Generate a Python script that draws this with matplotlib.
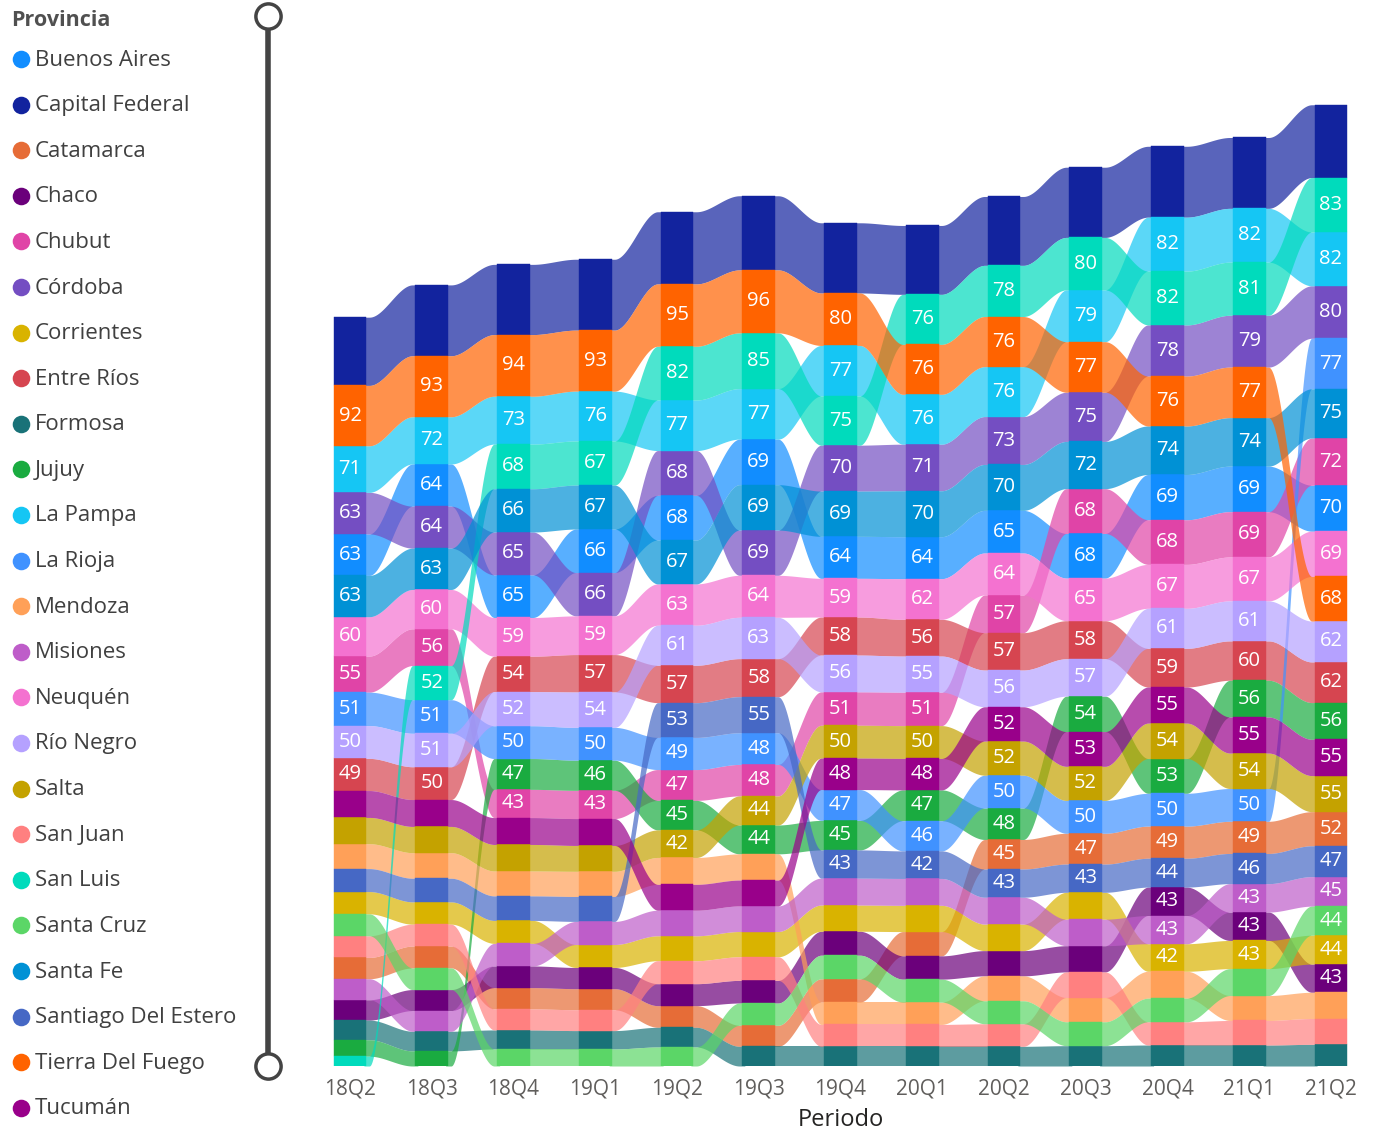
import numpy as np
import matplotlib
matplotlib.use("Agg")
import matplotlib.pyplot as plt

# ---------------- data ----------------
periods = ["18Q2", "18Q3", "18Q4", "19Q1", "19Q2", "19Q3", "19Q4",
           "20Q1", "20Q2", "20Q3", "20Q4", "21Q1", "21Q2"]

provinces = ["Buenos Aires", "Capital Federal", "Catamarca", "Chaco", "Chubut",
             "Córdoba", "Corrientes", "Entre Ríos", "Formosa", "Jujuy", "La Pampa",
             "La Rioja", "Mendoza", "Misiones", "Neuquén", "Río Negro", "Salta",
             "San Juan", "San Luis", "Santa Cruz", "Santa Fe", "Santiago Del Estero",
             "Tierra Del Fuego", "Tucumán"]

buenos_aires     = [63.2, 64.3, 65, 66.3, 68, 69.4, 64, 64, 65, 68, 69, 69.4, 70]
capital_federal  = [104, 108, 107, 108, 110, 113, 107, 105, 105, 107, 108, 108, 111]
catamarca        = [32.5, 33.3, 32.5, 32.1, 33, 32, 35.5, 37, 45, 47, 49, 49, 52]
chaco            = [31, 32, 33, 32.3, 33.5, 34.5, 36.5, 35.5, 38.5, 40, 43.3, 43.2, 43]
chubut           = [55, 56, 43, 43, 47, 48, 51, 51, 57.4, 68.3, 68, 69, 72]
cordoba          = [63.4, 64, 65.3, 66, 68.3, 69, 70, 71, 73, 75, 78, 79, 80]
corrientes       = [34, 34, 35, 35, 38, 38.5, 40, 40, 40.4, 41, 42, 43, 44]
entre_rios       = [49, 50, 54, 57, 57, 58, 58, 56, 57, 58, 59, 60, 62]
formosa          = [30, 30, 29, 28, 30, 30, 30, 30, 30, 31, 32, 32, 33]
jujuy            = [25, 23, 47, 46, 45, 44, 45, 47, 48, 54, 53, 56, 56]
la_pampa         = [71, 72, 73, 76, 77, 77, 77, 76, 76.1, 79, 82.3, 82, 82]
la_rioja         = [51, 51.2, 50, 50, 49, 48.3, 47, 46, 50, 50, 50, 50, 77]
mendoza          = [38, 39, 38, 38.4, 41, 40, 34, 34, 38, 37, 41, 38, 40]
misiones         = [32, 31.5, 34.4, 35.2, 39, 39, 41, 41, 41, 40.4, 43, 43.4, 45]
neuquen          = [60, 60, 59, 59, 63, 64, 59, 62, 64, 65, 67, 67, 69]
rio_negro        = [50, 51, 52, 54, 61, 63, 56, 55, 56, 57, 61, 61, 62.3]
salta            = [40, 40, 40.4, 39.4, 42, 44.3, 50, 50, 52, 52, 54, 54, 55]
san_juan         = [33, 33.4, 32, 31.8, 35, 36, 33.4, 33.4, 34.4, 39, 35.4, 37.4, 39.4]
san_luis         = [15, 52, 68, 67.3, 82, 85, 75, 76.3, 78, 80, 82, 81, 83]
santa_cruz       = [33.4, 33, 26, 26, 29, 34, 36, 35, 35, 36.4, 36, 41, 44.3]
santa_fe         = [63, 63, 66, 67, 67, 69.2, 69, 70, 70, 72, 74, 74, 75]
santiago         = [35, 36, 37.4, 38, 53, 55, 43, 42, 43, 43, 44, 46, 47]
tierra_del_fuego = [92, 93, 94, 93, 95, 96, 80, 76.1, 76.4, 77, 76, 77, 68]
tucuman          = [41, 41, 41, 41, 39.4, 39.4, 48, 48, 52.3, 53, 55, 55, 55.3]

colors = ["#118DFF", "#12239E", "#E66C37", "#6B007B", "#E044A7", "#744EC2",
          "#D9B300", "#D64550", "#197278", "#1AAB40", "#15C6F4", "#4092FF",
          "#FFA058", "#BE5DC9", "#F472D0", "#B5A1FF", "#C4A200", "#FF8080",
          "#00DBBC", "#5BD667", "#0091D5", "#4668C5", "#FF6300", "#99008A"]

values = np.array([buenos_aires, capital_federal, catamarca, chaco, chubut, cordoba,
                   corrientes, entre_rios, formosa, jujuy, la_pampa, la_rioja,
                   mendoza, misiones, neuquen, rio_negro, salta, san_juan, san_luis,
                   santa_cruz, santa_fe, santiago, tierra_del_fuego, tucuman], dtype=float)

# ---------------- figure ----------------
plt.rcParams['font.family'] = ['Open Sans', 'DejaVu Sans']
W, H = 1374, 1134
fig = plt.figure(figsize=(W / 100, H / 100), dpi=100)

# legend / decoration layer (pixel coordinates)
lax = fig.add_axes([0, 0, 1, 1])
lax.set_xlim(0, W)
lax.set_ylim(H, 0)
lax.axis('off')

lax.text(11, 21, "Provincia", fontsize=15.5, fontweight='bold', color='#505050',
         va='center', ha='left')
for k, (name, c) in enumerate(zip(provinces, colors)):
    yy = 59 + k * 45.6
    lax.scatter([21], [yy], s=160, color=c, lw=0)
    lax.text(35, yy + 1, name, fontsize=16, color='#404040', va='center', ha='left')

# scroll-like slider
lax.plot([268, 268], [16, 1066], color='#444444', lw=4, solid_capstyle='butt', zorder=1)
lax.scatter([268, 268], [16, 1066], s=330, facecolor='white', edgecolor='#444444',
            linewidth=2.5, zorder=2)

# main ribbon chart
scale = 0.656  # px per unit
px_left, px_right, px_bottom, px_top = 329.6, 1351.4, 1066, 90
ax = fig.add_axes([px_left / W, 1 - px_bottom / H, (px_right - px_left) / W,
                   (px_bottom - px_top) / H])
ax.set_xlim(-0.25, len(periods) - 1 + 0.25)
ax.set_ylim(0, (px_bottom - px_top) / scale)

n_prov, n_per = values.shape
bottoms = np.zeros_like(values)
for t in range(n_per):
    order = np.argsort(-values[:, t], kind='stable')
    cum = 0.0
    for i in order[::-1]:
        bottoms[i, t] = cum
        cum += values[i, t]
tops = bottoms + values

bw = 0.40
ov = 0.03  # ribbons tuck under the bars to avoid seams
for t in range(n_per - 1):
    xs = np.linspace(t + bw / 2 - ov, t + 1 - bw / 2 + ov, 90)
    u = (xs - xs[0]) / (xs[-1] - xs[0])
    u2 = np.clip((u - 0.1) / 0.8, 0, 1)
    s = u2 * u2 * (3 - 2 * u2)
    for i in range(n_prov):
        lo = bottoms[i, t] + (bottoms[i, t + 1] - bottoms[i, t]) * s
        hi = tops[i, t] + (tops[i, t + 1] - tops[i, t]) * s
        ax.fill_between(xs, lo, hi, color=colors[i], alpha=0.7, lw=0)

x = np.arange(n_per)
for i in range(n_prov):
    ax.bar(x, values[i], bottom=bottoms[i], width=bw, color=colors[i],
           edgecolor=colors[i], linewidth=0.3, zorder=3)

# value labels (Capital Federal labels are not shown in the original)
for i in range(n_prov):
    if provinces[i] == "Capital Federal":
        continue
    for t in range(n_per):
        v = values[i, t]
        if round(v) >= 42:
            ax.text(t, bottoms[i, t] + v / 2, f"{round(v):d}", color='white',
                    fontsize=14.5, ha='center', va='center', zorder=4)

for sp in ax.spines.values():
    sp.set_visible(False)
ax.set_yticks([])
ax.set_xticks(x)
ax.set_xticklabels(periods, fontsize=15, color='#605E5C')
ax.tick_params(axis='x', length=0, pad=9)
ax.set_xlabel("Periodo", fontsize=17, color='#252423', labelpad=6)
ax.patch.set_alpha(0)

fig.savefig("out.png", dpi=100)
